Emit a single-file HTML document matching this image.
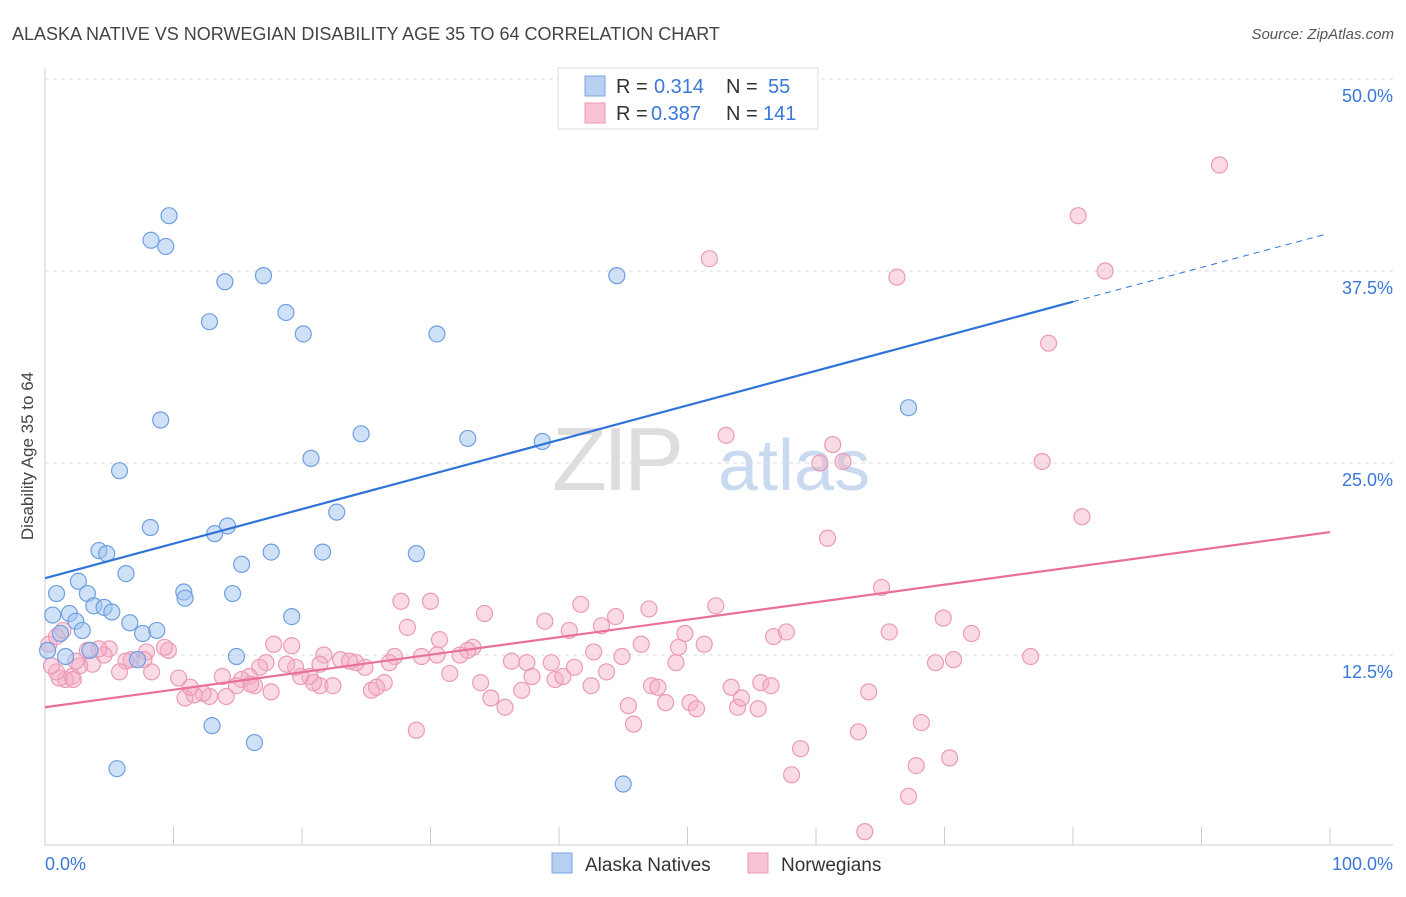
<!DOCTYPE html>
<html><head><meta charset="utf-8"><style>
body{margin:0;background:#fff;font-family:"Liberation Sans",sans-serif}
svg text{font-family:"Liberation Sans",sans-serif}
</style></head><body>
<svg id="chart" width="1406" height="892" xmlns="http://www.w3.org/2000/svg">
<text x="12" y="40" font-size="18" fill="#444">ALASKA NATIVE VS NORWEGIAN DISABILITY AGE 35 TO 64 CORRELATION CHART</text>
<text x="1394" y="39" font-size="15" fill="#555" text-anchor="end" font-style="italic">Source: ZipAtlas.com</text>
<g>
<text x="552" y="490" font-size="90" fill="#ddd" font-family="Liberation Serif" letter-spacing="-4">ZIP</text>
<text x="718" y="490" font-size="72" fill="#c9daf0">atlas</text>
</g>
<g id="grid"></g>
<g id="axes"></g>
<g id="marks"></g>
<text transform="translate(33,456) rotate(-90)" font-size="17" fill="#444" text-anchor="middle">Disability Age 35 to 64</text>
<g>
<rect x="558" y="68" width="260" height="61" fill="#fff" stroke="#ddd"/>
<rect x="585" y="76" width="20" height="20" fill="#b7d0f2" stroke="#7aa6e0"/>
<rect x="585" y="103" width="20" height="20" fill="#f8c3d3" stroke="#eb9ab6"/>
<text x="616" y="93" font-size="20" fill="#333">R =</text>
<text x="654" y="93" font-size="20" fill="#3a78d8">0.314</text>
<text x="726" y="93" font-size="20" fill="#333">N =</text>
<text x="768" y="93" font-size="20" fill="#3a78d8">55</text>
<text x="616" y="120" font-size="20" fill="#333">R =</text>
<text x="651" y="120" font-size="20" fill="#3a78d8">0.387</text>
<text x="726" y="120" font-size="20" fill="#333">N =</text>
<text x="763" y="120" font-size="20" fill="#3a78d8">141</text>
</g>
<g>
<rect x="552" y="853" width="20" height="20" fill="#b7d0f2" stroke="#7aa6e0"/>
<text x="585" y="871" font-size="19" fill="#333">Alaska Natives</text>
<rect x="748" y="853" width="20" height="20" fill="#f8c3d3" stroke="#eb9ab6"/>
<text x="781" y="871" font-size="19" fill="#333">Norwegians</text>
</g>
</svg>
<script>
const yTicks=[12.5,25,37.5,50];
const yTickLabels=["12.5%","25.0%","37.5%","50.0%"];
const xTickVals=[0,10,20,30,40,50,60,70,80,90,100];
const xEndLabels=["0.0%","100.0%"];
const blueX=[9.65,8.25,9.4,14.0,17.0,12.8,18.75,20.1,30.5,44.5,9.0,5.8,20.7,24.6,32.9,38.7,67.2,8.2,14.2,13.2,22.7,4.2,4.8,15.3,17.6,21.6,28.9,6.3,2.6,0.9,3.3,10.8,10.9,14.6,1.9,3.8,4.6,5.2,0.6,2.4,2.9,6.6,7.6,8.7,19.2,0.2,1.6,3.5,7.2,14.9,13.0,16.3,5.6,45.0,1.2];
const blueY=[41.1,39.5,39.1,36.8,37.2,34.2,34.8,33.4,33.4,37.2,27.8,24.5,25.3,26.9,26.6,26.4,28.6,20.8,20.9,20.4,21.8,19.3,19.1,18.4,19.2,19.2,19.1,17.8,17.3,16.5,16.5,16.6,16.2,16.5,15.2,15.7,15.6,15.3,15.1,14.7,14.1,14.6,13.9,14.1,15.0,12.8,12.4,12.8,12.2,12.4,7.9,6.8,5.1,4.1,13.9];
const pinkX=[91.4,80.4,82.5,51.7,66.3,78.1,53.0,61.3,60.3,62.1,77.6,80.7,60.9,65.1,69.9,72.1,65.7,76.7,70.7,69.3,56.7,57.7,51.3,52.2,49.8,47.0,44.4,41.7,43.3,38.9,40.8,34.2,30.0,27.7,28.2,30.7,33.3,32.9,32.3,29.3,30.5,27.2,26.8,24.9,24.2,23.0,23.7,21.7,21.4,20.6,19.9,19.5,18.8,19.2,17.8,17.2,16.7,15.9,15.3,13.8,17.6,16.3,16.0,14.9,14.1,12.8,12.3,11.6,10.9,11.3,10.4,9.6,9.3,7.9,7.7,6.7,6.3,5.8,8.3,5.0,4.6,4.2,3.7,2.7,2.4,3.3,2.1,1.6,1.1,0.9,0.5,0.3,0.9,1.4,2.2,21.4,20.9,22.4,25.4,26.4,25.8,28.9,31.5,33.9,34.7,35.8,37.1,36.3,37.5,37.9,39.4,39.7,40.3,41.2,42.7,42.5,43.7,44.9,45.4,45.8,47.2,47.7,48.3,49.1,50.2,50.7,53.4,53.9,54.2,55.5,55.7,56.5,58.8,58.1,64.1,63.3,63.8,67.2,67.8,68.2,70.4,46.4,49.3];
const pinkY=[44.4,41.1,37.5,38.3,37.1,32.8,26.8,26.2,25.0,25.1,25.1,21.5,20.1,16.9,14.9,13.9,14.0,12.4,12.2,12.0,13.7,14.0,13.2,15.7,13.9,15.5,15.0,15.8,14.4,14.7,14.1,15.2,16.0,16.0,14.3,13.5,13.0,12.8,12.5,12.4,12.5,12.4,12.0,11.7,12.0,12.2,12.1,12.5,11.9,11.1,11.1,11.7,11.9,13.1,13.2,12.0,11.7,11.1,10.9,11.1,10.1,10.5,10.6,10.5,9.8,9.8,10.0,9.9,9.7,10.4,11.0,12.8,13.0,12.7,12.2,12.2,12.1,11.4,11.4,12.9,12.5,12.9,11.9,11.8,12.1,12.8,11.1,10.9,11.0,11.4,11.8,13.2,13.7,14.1,10.9,10.5,10.7,10.5,10.2,10.7,10.4,7.6,11.3,10.7,9.7,9.1,10.2,12.1,12.0,11.1,12.0,10.9,11.1,11.7,12.7,10.5,11.4,12.4,9.2,8.0,10.5,10.4,9.4,12.0,9.4,9.0,10.4,9.1,9.7,9.0,10.7,10.5,6.4,4.7,10.1,7.5,1.0,3.3,5.3,8.1,5.8,13.2,13.0];
const blueTrend=[[0,17.5],[80,35.5],[99.7,39.9]];
const pinkTrend=[[0,9.1],[100,20.5]];
const NS="http://www.w3.org/2000/svg";
const X=v=>45+v*12.85, Y=v=>847-v*15.36;
function mk(p,t,a){const e=document.createElementNS(NS,t);for(const k in a)e.setAttribute(k,a[k]);p.appendChild(e);return e;}
const grid=document.getElementById('grid'),axes=document.getElementById('axes'),marks=document.getElementById('marks');
yTicks.forEach((t,i)=>{
 const l=mk(grid,'line',{x1:45,x2:1393,y1:Y(t),y2:Y(t),stroke:'#ddd','stroke-dasharray':'4,4'});
 
 
 const tx=mk(axes,'text',{x:1393,y:Y(t)+23,'font-size':18,fill:'#3a78d8','text-anchor':'end'});tx.textContent=yTickLabels[i];
 
 
});
mk(axes,'line',{x1:45,x2:45,y1:68,y2:845,stroke:'#ccc'});
mk(axes,'line',{x1:45,x2:1393,y1:845,y2:845,stroke:'#ccc'});
xTickVals.forEach(v=>{const t=mk(axes,'line',{x1:X(v),x2:X(v),y1:827,y2:845,stroke:'#ccc'});
 
 });
const xl0=mk(axes,'text',{x:45,y:870,'font-size':18,fill:'#3a78d8'});xl0.textContent=xEndLabels[0];


const xl1=mk(axes,'text',{x:1393,y:870,'font-size':18,fill:'#3a78d8','text-anchor':'end'});xl1.textContent=xEndLabels[1];


pinkX.forEach((x,i)=>{const c=mk(marks,'circle',{cx:X(x),cy:Y(pinkY[i]),r:8,fill:'rgba(245,175,198,0.45)',stroke:'#eb9ab6','stroke-width':1.2});
 
 });
blueX.forEach((x,i)=>{const c=mk(marks,'circle',{cx:X(x),cy:Y(blueY[i]),r:8,fill:'rgba(160,195,240,0.5)',stroke:'#6f9fe0','stroke-width':1.2});
 
 });
const bl=mk(marks,'line',{x1:X(blueTrend[0][0]),y1:Y(blueTrend[0][1]),x2:X(blueTrend[1][0]),y2:Y(blueTrend[1][1]),stroke:'#2f74d6','stroke-width':2.2});


const bd=mk(marks,'line',{x1:X(blueTrend[1][0]),y1:Y(blueTrend[1][1]),x2:X(blueTrend[2][0]),y2:Y(blueTrend[2][1]),stroke:'#2f74d6','stroke-width':1,'stroke-dasharray':'6,5'});


const pl=mk(marks,'line',{x1:X(pinkTrend[0][0]),y1:Y(pinkTrend[0][1]),x2:X(pinkTrend[1][0]),y2:Y(pinkTrend[1][1]),stroke:'#e8709a','stroke-width':2.2});


</script>
</body></html>
